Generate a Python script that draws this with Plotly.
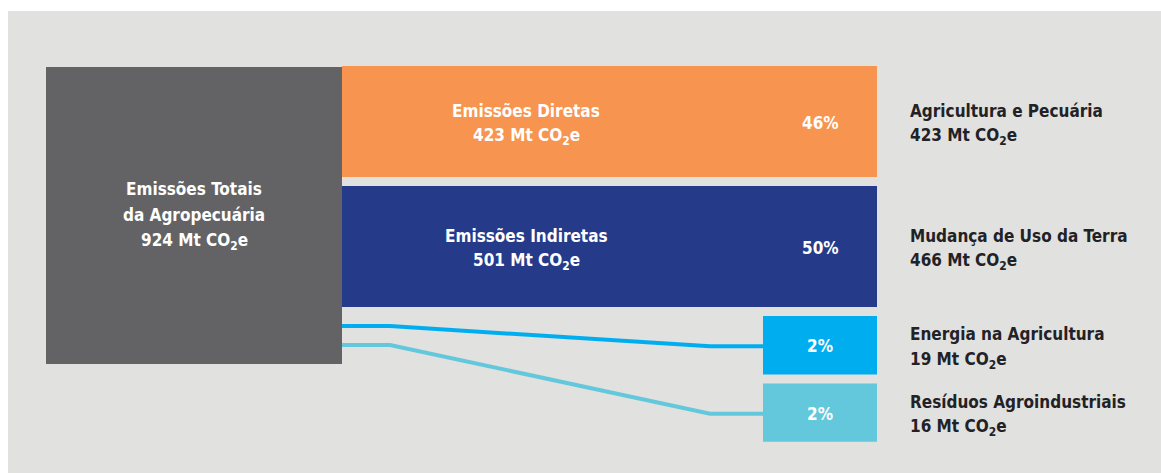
import plotly.graph_objects as go

# ---- data -------------------------------------------------------------
total_label = ["Emissões Totais", "da Agropecuária"]
total_value = 924

mid_names = ["Emissões Diretas", "Emissões Indiretas"]
mid_values = [423, 501]

dest_names = ["Agricultura e Pecuária", "Mudança de Uso da Terra",
              "Energia na Agricultura", "Resíduos Agroindustriais"]
dest_values = [423, 466, 19, 16]

# ---- styles -----------------------------------------------------------
W, H = 1161, 473
FONT = "DejaVu Sans Condensed, Liberation Sans Narrow, sans-serif"
FS = 17
LINE_H = 26
BG_PANEL = "#e1e1df"
C_TOTAL = "#636365"
C_MID = ["#f7944f", "#253b8a"]
C_DEST = ["#f7944f", "#253b8a", "#00aeef", "#63c8dc"]
TXT_DARK = "#222226"

# horizontal layout
SRC_X0, SRC_X1 = 46, 342
BEND_X0, BEND_X1 = 390, 710
DST_X0, DST_X1 = 763, 877
MID_TXT_X = (SRC_X1 + BEND_X1) / 2
LABEL_X = 908

# vertical layout: band thickness grows with value on top of a base size
TOP = 66
GAP = 9
BASE, K = 56, 0.13
LANE = 19


def thick(v):
    return BASE + K * v


def mt(v):
    return f"{v} Mt CO<sub>2</sub>e"


shapes = []
annotations = []
traces = []


def text_block(lines, x, cy, color, anchor="center"):
    """Stack lines with a fixed pitch, centred vertically on cy."""
    n = len(lines)
    for j, s in enumerate(lines):
        yy = cy + (j - (n - 1) / 2) * LINE_H
        annotations.append(dict(x=x, y=yy, xref="x", yref="y", text=f"<b>{s}</b>",
                                showarrow=False, align="left" if anchor == "left" else "center",
                                font=dict(family=FONT, size=FS, color=color),
                                xanchor=anchor, yanchor="middle"))


# panel background
shapes.append(dict(type="rect", xref="x", yref="y", x0=8, x1=W, y0=11, y1=H,
                   fillcolor=BG_PANEL, line_width=0, layer="below"))

# middle bands, running into the first two destination nodes
y = TOP
band_spans = []
for i, v in enumerate(mid_values):
    y0, y1 = y, y + thick(v)
    band_spans.append((y0, y1))
    shapes.append(dict(type="rect", xref="x", yref="y", x0=SRC_X1, x1=DST_X1,
                       y0=y0, y1=y1, fillcolor=C_MID[i], line_width=0))
    text_block([mid_names[i], mt(v)], MID_TXT_X, (y0 + y1) / 2 + 2, "white")
    y = y1 + GAP

# destination nodes
dest_spans = band_spans[:]
for v in dest_values[2:]:
    y0, y1 = y, y + thick(v)
    dest_spans.append((y0, y1))
    y = y1 + GAP

for i, (y0, y1) in enumerate(dest_spans):
    if i >= 2:
        shapes.append(dict(type="rect", xref="x", yref="y", x0=DST_X0, x1=DST_X1,
                           y0=y0, y1=y1, fillcolor=C_DEST[i], line_width=0))
    pct = round(100 * dest_values[i] / total_value)
    cy = (y0 + y1) / 2
    text_block([f"{pct}%"], (DST_X0 + DST_X1) / 2, cy + 1, "white")
    text_block([dest_names[i], mt(dest_values[i])], LABEL_X, cy + 2, TXT_DARK, "left")

# thin flows from the total node to the small destinations
lane_y = band_spans[-1][1]
for i in range(2, len(dest_values)):
    lane_y += LANE
    cy = sum(dest_spans[i]) / 2
    traces.append(go.Scatter(x=[SRC_X1, BEND_X0, BEND_X1, DST_X0],
                             y=[lane_y, lane_y, cy + 1, cy + 1], mode="lines",
                             line=dict(color=C_DEST[i], width=4),
                             hoverinfo="skip", showlegend=False))
src_bottom = lane_y + LANE

# total node
shapes.append(dict(type="rect", xref="x", yref="y", x0=SRC_X0, x1=SRC_X1,
                   y0=TOP + 1, y1=src_bottom, fillcolor=C_TOTAL, line_width=0))
text_block(total_label + [mt(total_value)], (SRC_X0 + SRC_X1) / 2,
           (TOP + src_bottom) / 2, "white")

fig = go.Figure(traces)
fig.update_layout(
    width=W, height=H, margin=dict(l=0, r=0, t=0, b=0),
    paper_bgcolor="white", plot_bgcolor="white",
    shapes=shapes, annotations=annotations,
    xaxis=dict(range=[0, W], visible=False, fixedrange=True),
    yaxis=dict(range=[H, 0], visible=False, fixedrange=True),
)
fig.write_html("out.html")
